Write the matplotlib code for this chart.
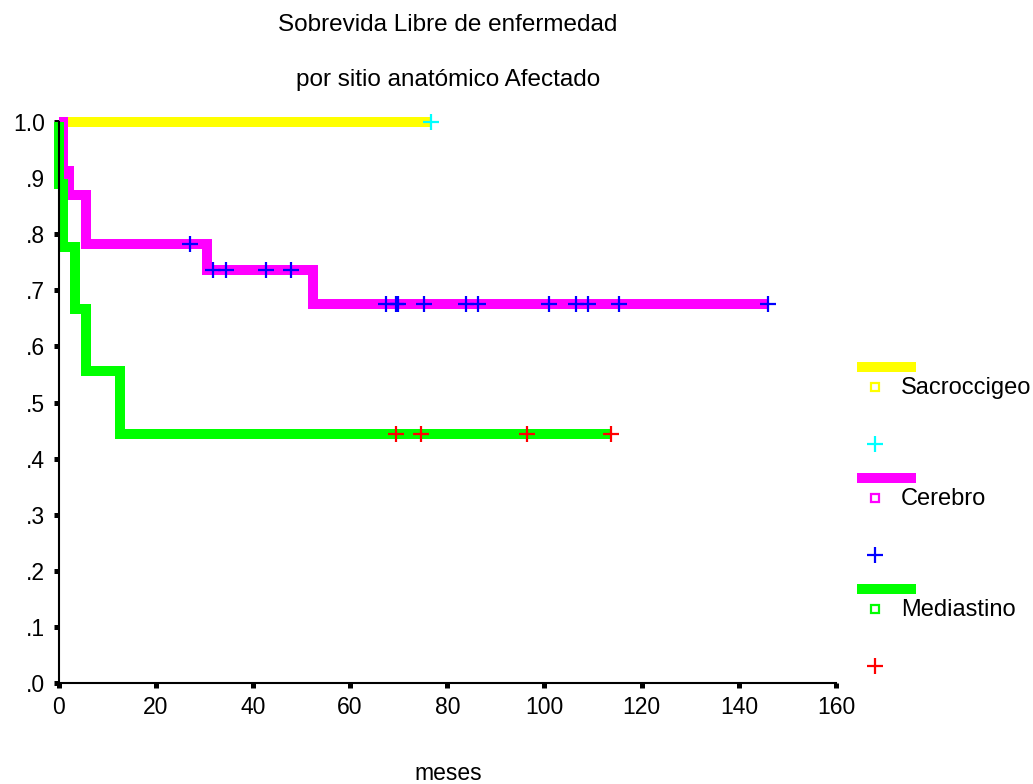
import matplotlib
matplotlib.use("Agg")
import matplotlib.pyplot as plt
import numpy as np

plt.rcParams['font.family'] = ['Liberation Sans', 'DejaVu Sans']

# survival curves (months, proportion)
sacro_t = [0.0, 76.7]
sacro_s = [1.0, 1.0]
sacro_cens = [76.7]

cerebro_t = [0.0, 1.0, 2.2, 5.6, 30.5, 52.3, 146.0]
cerebro_s = [1.0, 0.913, 0.870, 0.783, 0.737, 0.675, 0.675]
cerebro_cens_t = [27.0, 31.8, 34.5, 42.7, 47.9, 67.4, 69.5, 69.8, 75.3,
                  83.9, 86.3, 101.0, 106.5, 108.9, 115.4, 146.0]

medi_t = [0.0, 0.05, 0.9, 3.3, 5.6, 12.6, 113.7]
medi_s = [1.0, 0.889, 0.778, 0.667, 0.556, 0.444, 0.444]
medi_cens_t = [69.5, 74.6, 96.5, 113.7]

names = ["Sacroccigeo", "Cerebro", "Mediastino"]
line_colors = ["#ffff00", "#ff00ff", "#00ff00"]
cens_colors = ["#00ffff", "#0000ff", "#ff0000"]

xticks = [0, 20, 40, 60, 80, 100, 120, 140, 160]
yticks = [0.0, 0.1, 0.2, 0.3, 0.4, 0.5, 0.6, 0.7, 0.8, 0.9, 1.0]
ylabels = [".0", ".1", ".2", ".3", ".4", ".5", ".6", ".7", ".8", ".9", "1.0"]


def surv_at(t, times, surv):
    idx = np.searchsorted(times, t, side="right") - 1
    return np.array(surv)[idx]


W, H = 1033, 784
fig = plt.figure(figsize=(W / 100, H / 100), dpi=100)
ax = fig.add_axes([58.5 / W, 1 - 683 / H, (836 - 58.5) / W, (683 - 122) / H])

curves = [(sacro_t, sacro_s, sacro_cens),
          (cerebro_t, cerebro_s, cerebro_cens_t),
          (medi_t, medi_s, medi_cens_t)]

lw = 7.2
for (t, s, c), lc, cc in zip(curves, line_colors, cens_colors):
    ax.plot(t, s, drawstyle="steps-post", color=lc, lw=lw,
            solid_joinstyle="miter", solid_capstyle="butt", clip_on=False, zorder=2)
for (t, s, c), lc, cc in zip(curves, line_colors, cens_colors):
    cy = surv_at(c, t, s)
    ax.plot(c, cy, ls="none", marker="+", ms=11, mew=1.6, color=cc,
            clip_on=False, zorder=3)

ax.set_xlim(0, 160)
ax.set_ylim(0, 1)
ax.set_xticks(xticks)
ax.set_yticks(yticks)
ax.set_yticklabels(ylabels)
for sp in ["top", "right"]:
    ax.spines[sp].set_visible(False)
for sp in ["left", "bottom"]:
    ax.spines[sp].set_linewidth(1.5)
ax.tick_params(axis="both", direction="out", length=3.6, width=3.6,
               labelsize=16.5, color="black")
ax.tick_params(axis="y", pad=6)
ax.tick_params(axis="x", pad=6)

fig.text(448 / W, 1 - 25 / H, "Sobrevida Libre de enfermedad",
         ha="center", va="center", fontsize=17.5)
fig.text(448 / W, 1 - 80 / H, "por sitio anatómico Afectado",
         ha="center", va="center", fontsize=17.5)
fig.text(448 / W, 1 - 773 / H, "meses", ha="center", va="center", fontsize=16.5)

# legend drawn in pixel coordinates
lg = fig.add_axes([0, 0, 1, 1])
lg.set_xlim(0, W)
lg.set_ylim(H, 0)
lg.axis("off")
tops = [367, 478, 589]
for name, lc, cc, y0 in zip(names, line_colors, cens_colors, tops):
    lg.plot([857, 916], [y0, y0], color=lc, lw=7.2, solid_capstyle="butt")
    lg.plot([875], [y0 + 20], ls="none", marker="s", ms=6.3, mfc="none",
            mec=lc, mew=1.6)
    lg.text(901, y0 + 21, name, ha="left", va="center", fontsize=17)
    lg.plot([875], [y0 + 77], ls="none", marker="+", ms=11, mew=1.6, color=cc)

fig.savefig("out.png", dpi=100)
